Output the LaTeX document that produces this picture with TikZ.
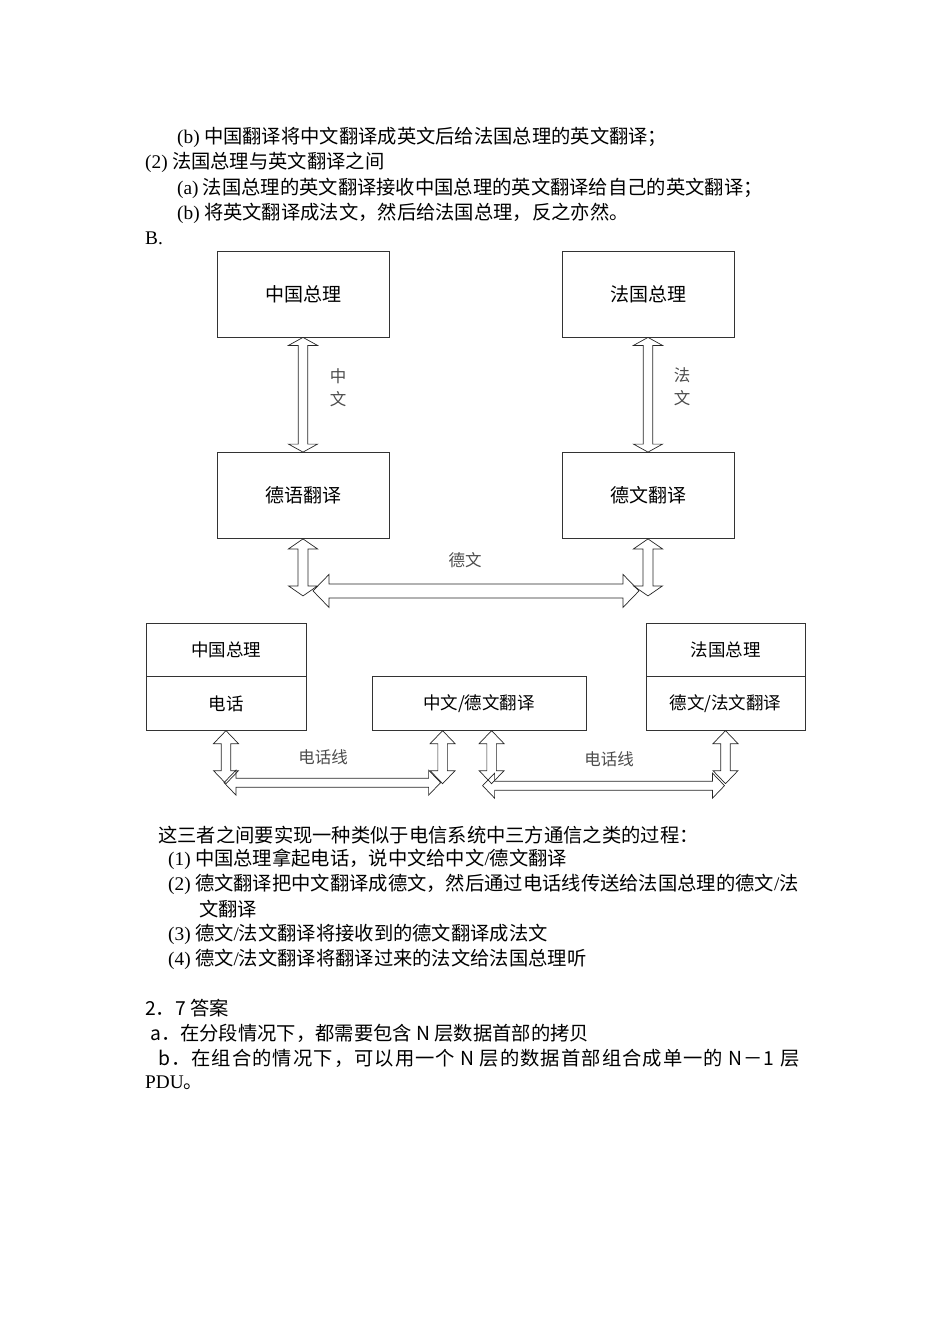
\documentclass[tikz,border=0pt]{standalone}
\usepackage{fontspec}
\setmainfont{Liberation Serif}
\newfontfamily\cjk{Noto Sans CJK SC}
\newfontfamily\cjkwide{Noto Sans CJK SC}[LetterSpace=5.5]
\usetikzlibrary{positioning, calc}
\newcommand{\lat}[1]{{\rmfamily #1}}
\tikzstyle{process} = [rectangle, minimum width=172pt, minimum height=86pt, inner sep=0pt, text centered, draw=black!80, line width=0.8pt, font=\cjk\fontsize{19}{22}\selectfont]
\tikzstyle{cell} = [rectangle, minimum width=160pt, minimum height=53.5pt, inner sep=0pt, text centered, draw=black!80, line width=0.8pt, font=\cjk\fontsize{17.5}{20}\selectfont]
\tikzstyle{fatarrow} = [draw=black!85, line width=0.7pt]
\tikzstyle{txt} = [anchor=west, inner sep=0pt, font=\cjk\fontsize{19.3}{25}\selectfont]
\tikzstyle{lab} = [inner sep=0pt, text=black!70, align=center, font=\cjk\fontsize{16.5}{23}\selectfont]
% 空心双向箭头：起点，终点，箭头半宽，箭头长，杆半宽
\newcommand{\dblarrow}[5]{%
  \coordinate (da1) at ($#1!#4!#2$);
  \coordinate (da2) at ($#2!#4!#1$);
  \draw [fatarrow] #1 -- ($(da1)!#3!90:#2$) -- ($(da1)!#5!90:#2$) -- ($(da2)!#5!-90:#1$) -- ($(da2)!#3!-90:#1$) -- #2
    -- ($(da2)!#3!90:#1$) -- ($(da2)!#5!90:#1$) -- ($(da1)!#5!-90:#2$) -- ($(da1)!#3!-90:#2$) -- cycle;}

\begin{document}
\begin{tikzpicture}[x=1pt, y=-1pt]
  \useasboundingbox (0,0) rectangle (950,1344);
  %上面的文字
  \node (t1) [txt] at (177,137) {\lat{(b)} 中国翻译将中文翻译成英文后给法国总理的英文翻译；};
  \node (t2) [txt] at (145,162) {\lat{(2)} 法国总理与英文翻译之间};
  \node (t3) [txt] at (177,188) {\lat{(a)} 法国总理的英文翻译接收中国总理的英文翻译给自己的英文翻译；};
  \node (t4) [txt] at (177,213) {\lat{(b)} 将英文翻译成法文，然后给法国总理，反之亦然。};
  \node (t5) [txt] at (145,238) {\lat{B.}};

  %第一个图
  \node (zgzl) [process] at (303,294) {中国总理};
  \node (fggl) [process, right of=zgzl, node distance=345pt] {法国总理};
  \node (dyfy) [process, below of=zgzl, node distance=201.5pt] {德语翻译};
  \node (dwfy) [process, below of=fggl, node distance=201.5pt] {德文翻译};
  \coordinate (dyb) at ($(dyfy.south)+(0,57)$);
  \coordinate (dwb) at ($(dwfy.south)+(0,57)$);
  \coordinate (dwl) at ($(dyfy.south)+(10,52)$);
  \coordinate (dwr) at ($(dwfy.south)+(-9,52)$);
  \dblarrow{(zgzl.south)}{(dyfy.north)}{14.5pt}{8pt}{4.75pt}
  \dblarrow{(fggl.south)}{(dwfy.north)}{14.5pt}{8pt}{4.75pt}
  \dblarrow{(dyfy.south)}{(dyb)}{14.5pt}{10pt}{5pt}
  \dblarrow{(dwfy.south)}{(dwb)}{14.5pt}{10pt}{5pt}
  \dblarrow{(dwl)}{(dwr)}{16.5pt}{16pt}{7pt}
  \node (zw) [lab] at (338,388) {中\\文};
  \node (fw) [lab] at (682,387) {法\\文};
  \node (dw) [lab] at (465,560) {德文};

  %第二个图
  \node (zgzl2) [cell] at (226,650) {中国总理};
  \node (dh) [cell, below of=zgzl2, node distance=53.5pt] {电话};
  \node (zdfy) [cell, minimum width=214pt] at (479,703.5) {中文/德文翻译};
  \node (fggl2) [cell, minimum width=159pt] at (725.5,650) {法国总理};
  \node (dffy) [cell, minimum width=159pt, below of=fggl2, node distance=53.5pt] {德文/法文翻译};
  \coordinate (za) at ($(zdfy.south west)+(71,0)$);
  \coordinate (zb) at ($(zdfy.south west)+(120,0)$);
  \coordinate (dhb) at ($(dh.south)+(0,53)$);
  \coordinate (zab) at ($(za)+(0,53)$);
  \coordinate (zbb) at ($(zb)+(0,53)$);
  \coordinate (dfb) at ($(dffy.south)+(0,53)$);
  \coordinate (x1l) at ($(dh.south)+(-2,52)$);
  \coordinate (x1r) at ($(zdfy.south west)+(69,52)$);
  \coordinate (x2l) at ($(zdfy.south west)+(111,55)$);
  \coordinate (x2r) at ($(dffy.south)+(-1,55)$);
  \dblarrow{(dh.south)}{(dhb)}{12.5pt}{13pt}{4.75pt}
  \dblarrow{(za)}{(zab)}{12.5pt}{13pt}{4.75pt}
  \dblarrow{(zb)}{(zbb)}{12.5pt}{13pt}{4.75pt}
  \dblarrow{(dffy.south)}{(dfb)}{12.5pt}{13pt}{4.75pt}
  \dblarrow{(x1l)}{(x1r)}{12.5pt}{12pt}{4.5pt}
  \dblarrow{(x2l)}{(x2r)}{12.5pt}{12pt}{4.5pt}
  \node (dhx1) [lab] at (323,757) {电话线};
  \node (dhx2) [lab] at (609,759) {电话线};

  %下面的文字
  \node (t6) [txt] at (158,835) {这三者之间要实现一种类似于电信系统中三方通信之类的过程：};
  \node (t7) [txt] at (168,859) {\lat{(1)} 中国总理拿起电话，说中文给中文\lat{/}德文翻译};
  \node (t8) [txt] at (168,884) {\lat{(2)} 德文翻译把中文翻译成德文，然后通过电话线传送给法国总理的德文\lat{/}法};
  \node (t9) [txt] at (199,909) {文翻译};
  \node (t10) [txt] at (168,934) {\lat{(3)} 德文\lat{/}法文翻译将接收到的德文翻译成法文};
  \node (t11) [txt] at (168,959) {\lat{(4)} 德文\lat{/}法文翻译将翻译过来的法文给法国总理听};
  \node (t12) [txt] at (145,1008) {2．7 答案};
  \node (t13) [txt] at (150,1033) {a．在分段情况下，都需要包含 N 层数据首部的拷贝};
  \node (t14) [txt, font=\cjkwide\fontsize{19.3}{25}\selectfont] at (158,1058) {b．在组合的情况下，可以用一个 N 层的数据首部组合成单一的 N－1 层};
  \node (t15) [txt] at (145,1083) {\lat{PDU}。};
\end{tikzpicture}
\end{document}
